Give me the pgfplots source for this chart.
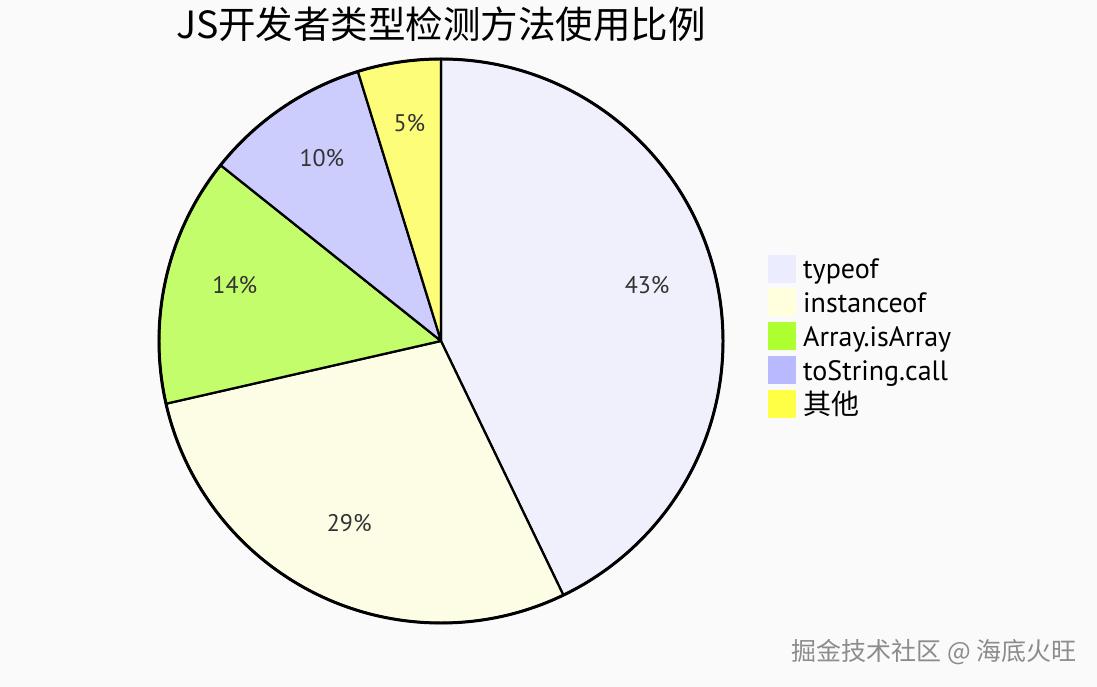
\documentclass[border=0pt]{standalone}
\usepackage{pgfplots}
\usepackage{pgfplotstable}
\pgfplotsset{compat=1.18}
\usepackage{fontspec}
\setmainfont{PT Sans}
\newfontfamily\cjk{Noto Sans CJK SC}
\definecolor{bgcol}{HTML}{FAFAFA}
\definecolor{pA}{HTML}{ECECFF}
\definecolor{pB}{HTML}{FFFFDE}
\definecolor{pC}{HTML}{ADFF2F}
\definecolor{pD}{HTML}{B9B9FF}
\definecolor{pE}{HTML}{FFFF45}
\definecolor{lbl}{HTML}{333333}
\definecolor{wm}{HTML}{8C8C8C}
% values (labels show rounded percentages)
\pgfplotstableread{
label value color
typeof 45 pA
instanceof 30 pB
Array.isArray 15 pC
toString.call 10 pD
other 5 pE
}\datatable
\def\total{105}
\begin{document}
\begin{tikzpicture}
\fill[bgcol] (0bp,0bp) rectangle (1097bp,687bp);
\begin{axis}[at={(441bp,346bp)}, anchor=center, scale only axis,
  width=564bp, height=564bp, xmin=-1, xmax=1, ymin=-1, ymax=1,
  hide axis, clip=false, axis equal image]
\def\cum{0}
\pgfplotsforeachungrouped \i in {0,...,4}{%
  \pgfplotstablegetelem{\i}{value}\of\datatable \let\sval=\pgfplotsretval
  \pgfplotstablegetelem{\i}{color}\of\datatable \let\scol=\pgfplotsretval
  \pgfmathsetmacro\sa{90-(360/\total)*\cum}%
  \pgfmathsetmacro\sb{90-(360/\total)*(\cum+\sval)}%
  \pgfmathsetmacro\sm{(\sa+\sb)/2}%
  \pgfmathsetmacro\lx{0.75*cos(\sm)}%
  \pgfmathsetmacro\ly{0.75*sin(\sm)}%
  \pgfmathsetmacro\sx{cos(\sa)}%
  \pgfmathsetmacro\sy{sin(\sa)}%
  \pgfmathtruncatemacro\pct{round(100*\sval/\total)}%
  \edef\temp{\noexpand\filldraw[fill=\scol, fill opacity=0.7, draw=black, line width=2.2pt, line join=round]
    (axis cs:0,0) -- (axis cs:\sx,\sy) arc[start angle=\sa, end angle=\sb, radius=1] -- cycle;
    \noexpand\node[anchor=base, inner sep=0pt, text=lbl, font=\noexpand\fontsize{24bp}{28bp}\noexpand\selectfont] at (axis cs:\lx,\ly) {\pct\noexpand\%};}%
  \temp
  \pgfmathsetmacro\cum{\cum+\sval}%
}
\draw[line width=3pt] (axis cs:0,0) circle[radius=1];
\end{axis}
% title
\node[anchor=base, font=\cjk\fontsize{37.5bp}{40bp}\selectfont] at (441bp,648bp) {JS开发者类型检测方法使用比例};
% legend
\foreach \yc/\cc/\tt in {269/pA/typeof, 302/pB/instanceof, 336/pC/Array.isArray, 370/pD/toString.call, 404/pE/{\cjk 其他}}{
  \fill[\cc] (768bp,{(687-\yc-14)*1bp}) rectangle ++(28bp,28bp);
  \node[anchor=base west, inner sep=0pt, font=\fontsize{28bp}{32bp}\selectfont] at (803bp,{(687-\yc-10)*1bp}) {\tt};
}
% watermark
\node[anchor=base east, inner sep=0pt, text=wm, font=\cjk\fontsize{25bp}{28bp}\selectfont] at (1077bp,27bp) {掘金技术社区 @ 海底火旺};
\end{tikzpicture}
\end{document}
